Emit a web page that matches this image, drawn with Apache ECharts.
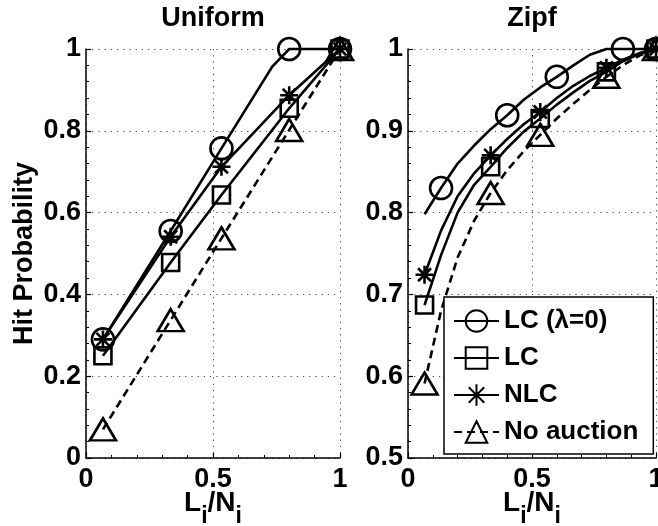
<!DOCTYPE html>
<html>
<head>
<meta charset="utf-8">
<script src="https://cdn.jsdelivr.net/npm/echarts@6/dist/echarts.min.js"></script>
<style>
  html, body { margin: 0; padding: 0; background: #fff; }
  #chart { width: 658px; height: 526px; }
</style>
</head>
<body>
<div id="chart"></div>
<script>
// Cache size steps L_i/N_i = k/15, k = 1..15
const xSteps = [0.0667, 0.1333, 0.2, 0.2667, 0.3333, 0.4, 0.4667, 0.5333, 0.6, 0.6667, 0.7333, 0.8, 0.8667, 0.9333, 1];

// Uniform popularity (null = no vertex at that step)
const uniLC0  = [0.29, null, null, null, 0.555, null, null, 0.757, null, null, 0.957, 1.0, null, null, 1.0];
const uniLC   = [0.25, null, null, null, 0.478, null, null, 0.643, null, null, null, 0.855, null, null, 1.0];
const uniNLC  = [0.29, null, null, null, 0.541, null, null, 0.712, null, null, null, 0.887, null, null, 1.0];
const uniNone = [0.07, null, null, null, 0.337, null, null, 0.537, null, null, null, 0.802, null, null, 1.0];

// Zipf popularity
const zipfLC0  = [0.798, 0.830, 0.860, 0.882, 0.902, 0.919, 0.938, 0.953, 0.966, 0.980, 0.993, 1.0, 1.0, 1.0, 1.0];
const zipfLC   = [0.687, 0.748, 0.800, 0.834, 0.856, 0.879, 0.899, 0.915, 0.932, 0.947, 0.961, 0.972, 0.985, 0.994, 1.0];
const zipfNLC  = [0.724, 0.778, 0.820, 0.848, 0.870, 0.890, 0.908, 0.923, 0.940, 0.955, 0.967, 0.977, 0.987, 0.995, 1.0];
const zipfNone = [0.591, 0.680, 0.745, 0.790, 0.824, 0.852, 0.875, 0.895, 0.915, 0.933, 0.950, 0.966, 0.980, 0.992, 1.0];

// Steps that carry a marker
const marksDefault = [0, 4, 7, 11, 14];
const marksZipfLC0 = [1, 5, 8, 12, 14];

const seriesNames = ['LC (\u03bb=0)', 'LC', 'NLC', 'No auction'];
const panelTitles = ['Uniform', 'Zipf'];
const xTickLabels = ['0', '0.5', '1'];

const FONT = '"Liberation Sans", Arial, Helvetica, sans-serif';
const STAR = 'path://M0,-10L0,10M-10,0L10,0M-7.2,-7.2L7.2,7.2M-7.2,7.2L7.2,-7.2';

const markerStyles = {
  'LC (\u03bb=0)': { symbol: 'circle', size: 22, dash: 'solid' },
  'LC': { symbol: 'rect', size: 17, dash: 'solid' },
  'NLC': { symbol: STAR, size: 18, dash: 'solid' },
  'No auction': { symbol: 'triangle', size: [26, 22], dash: [8, 5] }
};

function buildData(values, marks) {
  const out = [];
  values.forEach((v, i) => {
    if (v === null) return;
    const item = { value: [xSteps[i], v] };
    if (marks.indexOf(i) < 0) item.symbol = 'none';
    out.push(item);
  });
  return out;
}

function makeSeries(name, values, marks, gridIndex) {
  const m = markerStyles[name];
  return {
    name: name,
    type: 'line',
    xAxisIndex: gridIndex,
    yAxisIndex: gridIndex,
    data: buildData(values, marks),
    symbol: m.symbol,
    symbolSize: m.size,
    showSymbol: true,
    clip: false,
    z: 3,
    lineStyle: { color: '#000', width: 2.6, type: m.dash },
    itemStyle: { color: 'rgba(0,0,0,0)', borderColor: '#000', borderWidth: 2.6 },
    emphasis: { disabled: true }
  };
}

function xAxisFor(gridIndex) {
  return {
    type: 'value', gridIndex: gridIndex, min: 0, max: 1, interval: 0.5,
    axisLine: { show: true, onZero: false, lineStyle: { color: '#000', width: 1.5 } },
    axisTick: { show: true, inside: true, length: 5, lineStyle: { color: '#000', width: 1.2 } },
    minorTick: { show: true, splitNumber: 5, length: 3, lineStyle: { color: '#000', width: 1 } },
    splitLine: { show: true, lineStyle: { color: '#444', width: 1, type: [1.2, 5] } },
    axisLabel: {
      color: '#000', fontFamily: FONT, fontWeight: 'bold', fontSize: 27, margin: 8,
      formatter: v => xTickLabels[Math.round(v * 2)]
    },
    name: '{a|L}{s|i}{a|/N}{s|i}',
    nameLocation: 'middle',
    nameGap: 45,
    nameMoveOverlap: false,
    nameTextStyle: {
      rich: {
        a: { fontFamily: FONT, fontWeight: 'bold', fontSize: 28, color: '#000', lineHeight: 28, padding: [0, 0, 28, 0] },
        s: { fontFamily: FONT, fontWeight: 'bold', fontSize: 23, color: '#000', lineHeight: 23 }
      }
    }
  };
}

function yAxisFor(gridIndex, min, interval) {
  const ax = {
    type: 'value', gridIndex: gridIndex, min: min, max: 1, interval: interval,
    axisLine: { show: true, onZero: false, lineStyle: { color: '#000', width: 1.5 } },
    axisTick: { show: true, inside: true, length: 5, lineStyle: { color: '#000', width: 1.2 } },
    minorTick: { show: true, splitNumber: 5, length: 3, lineStyle: { color: '#000', width: 1 } },
    splitLine: { show: true, lineStyle: { color: '#444', width: 1, type: [1.2, 5] } },
    axisLabel: { color: '#000', fontFamily: FONT, fontWeight: 'bold', fontSize: 27, margin: 5 }
  };
  if (gridIndex === 0) {
    ax.name = 'Hit Probability';
    ax.nameLocation = 'middle';
    ax.nameGap = 48;
    ax.nameTextStyle = { fontFamily: FONT, fontWeight: 'bold', fontSize: 27, color: '#000' };
  }
  return ax;
}

const chart = echarts.init(document.getElementById('chart'), null, { renderer: 'canvas' });

const series = [
  makeSeries(seriesNames[0], uniLC0, marksDefault, 0),
  makeSeries(seriesNames[1], uniLC, marksDefault, 0),
  makeSeries(seriesNames[2], uniNLC, marksDefault, 0),
  makeSeries(seriesNames[3], uniNone, marksDefault, 0),
  makeSeries(seriesNames[0], zipfLC0, marksZipfLC0, 1),
  makeSeries(seriesNames[1], zipfLC, marksDefault, 1),
  makeSeries(seriesNames[2], zipfNLC, marksDefault, 1),
  makeSeries(seriesNames[3], zipfNone, marksDefault, 1)
];

chart.setOption({
  animation: false,
  backgroundColor: '#fff',
  title: [
    { text: panelTitles[0], left: 213, top: 5, textAlign: 'center', padding: 0,
      textStyle: { fontFamily: FONT, fontWeight: 'bold', fontSize: 27, color: '#000' } },
    { text: panelTitles[1], left: 532, top: 5, textAlign: 'center', padding: 0,
      textStyle: { fontFamily: FONT, fontWeight: 'bold', fontSize: 27, color: '#000' } }
  ],
  grid: [
    { left: 86, top: 49, width: 254, height: 409, containLabel: false, outerBoundsMode: 'none' },
    { left: 408, top: 49, width: 248, height: 409, containLabel: false, outerBoundsMode: 'none' }
  ],
  xAxis: [xAxisFor(0), xAxisFor(1)],
  yAxis: [yAxisFor(0, 0, 0.2), yAxisFor(1, 0.5, 0.1)],
  legend: {
    data: seriesNames,
    orient: 'vertical',
    left: 444, top: 297,
    padding: [11, 15, 9, 9],
    itemWidth: 45, itemHeight: 27, itemGap: 11,
    backgroundColor: '#fff',
    borderColor: '#000', borderWidth: 1.5,
    selectedMode: false,
    z: 10,
    textStyle: { fontFamily: FONT, fontWeight: 'bold', fontSize: 26, color: '#000' }
  },
  series: series
});
</script>
</body>
</html>
